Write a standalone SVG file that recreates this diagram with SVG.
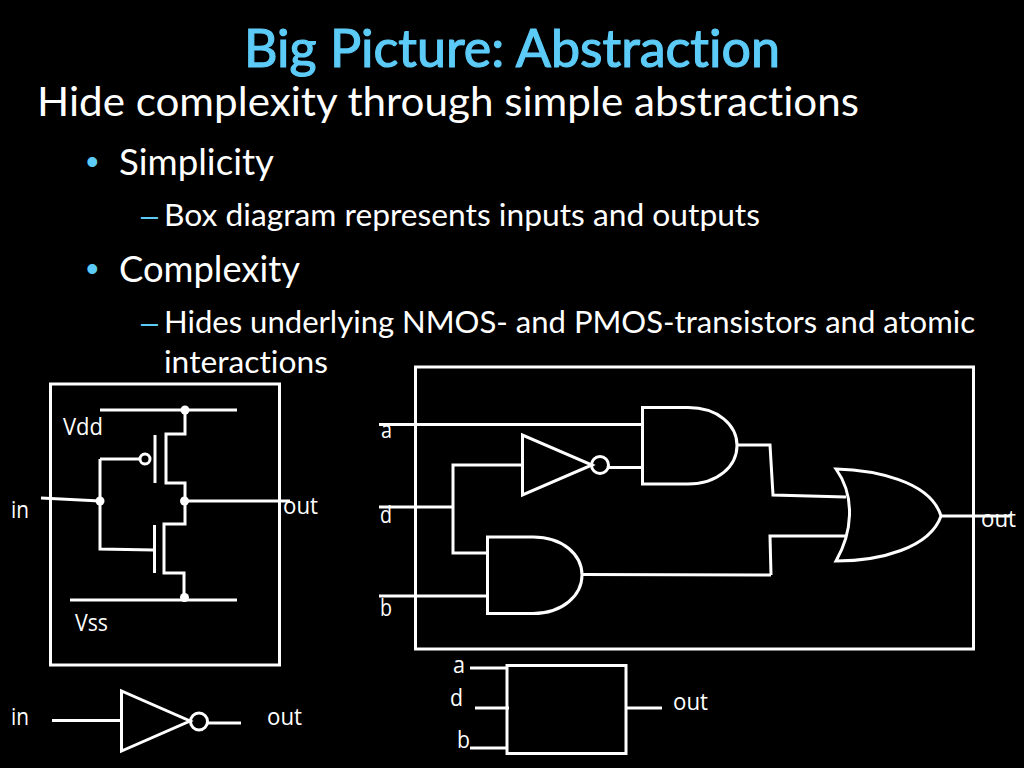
<svg xmlns="http://www.w3.org/2000/svg" width="1024" height="768" viewBox="0 0 1024 768">
<style>
text{font-family:"Lato","Open Sans","Liberation Sans",sans-serif;fill:#fff;font-variant-ligatures:none}
.title{font-size:52px;fill:#5ccbf7;stroke:#5ccbf7;stroke-width:1.2px}
.l1{font-size:40px}.l2{font-size:36px}.l3{font-size:31px}
.bul{fill:#5ccbf7;font-family:"Liberation Sans",sans-serif}
.lb{font-size:23px;font-family:"Open Sans",sans-serif}
.w{fill:none;stroke:#fff;stroke-width:3;stroke-linejoin:miter}
.d{fill:#fff;stroke:none}
</style>
<rect width="1024" height="768" fill="#000"/>
<g id="slide-text">
<text class="title" x="244" y="67" textLength="536" lengthAdjust="spacingAndGlyphs">Big Picture: Abstraction</text>
<text class="l1" x="37" y="116" textLength="822" lengthAdjust="spacingAndGlyphs">Hide complexity through simple abstractions</text>
<text class="l2 bul" x="86" y="174">•</text>
<text class="l2" x="119" y="175" textLength="155" lengthAdjust="spacingAndGlyphs">Simplicity</text>
<text class="l3 bul" x="141" y="226" textLength="17" lengthAdjust="spacingAndGlyphs">–</text>
<text class="l3" x="164" y="226" textLength="596" lengthAdjust="spacingAndGlyphs">Box diagram represents inputs and outputs</text>
<text class="l2 bul" x="86" y="281">•</text>
<text class="l2" x="119" y="282" textLength="181" lengthAdjust="spacingAndGlyphs">Complexity</text>
<text class="l3 bul" x="141" y="333" textLength="17" lengthAdjust="spacingAndGlyphs">–</text>
<text class="l3" x="164" y="333" textLength="811" lengthAdjust="spacingAndGlyphs">Hides underlying NMOS- and PMOS-transistors and atomic</text>
<text class="l3" x="164" y="373" textLength="164" lengthAdjust="spacingAndGlyphs">interactions</text>
</g>
<g id="connectors">
<path class="w" d="M100 410H237M70 600H237M185 410V434H166V483H185V524H164V573H184V598M41 498L100 501M100 459H141M100 459V549L154 550M185 501H290"/>
<path class="w" d="M379 424.500H642M379 507H453M379 596H487M453 507V465H522M453 507V553H487M609 467.500H642M582 574.500L771 575M737 445H770L773 495L846 497M771 575L770 536H845M941 516H1010"/>
<path class="w" d="M52 720.500H121M208 723H241M470 668H507M475 708H509M470 748H507M626 708H662"/>
</g>
<g id="cmos-box"><rect class="w" x="50.500" y="384" width="229" height="281"/></g>
<g id="pmos"><path class="w" d="M155 435V483"/><circle class="w" cx="145" cy="459" r="5"/></g>
<g id="nmos"><path class="w" d="M154.500 525V573"/></g>
<g id="junctions">
<circle class="d" cx="185" cy="410" r="4.500"/><circle class="d" cx="100" cy="501" r="4.500"/><circle class="d" cx="184.500" cy="501" r="4.500"/><circle class="d" cx="184.500" cy="597.500" r="4.500"/>
</g>
<g id="circuit-box"><rect class="w" x="415.500" y="367" width="558" height="282"/></g>
<g id="and-top"><path class="w" d="M642.500 407.500H688C718 407.500 737 425 737 445.500C737 466 718 484 688 484H642.500Z"/></g>
<g id="not-mid"><path class="w" d="M522.500 435V495L592 465Z"/><circle class="w" cx="600" cy="465" r="8.500"/></g>
<g id="and-bottom"><path class="w" d="M487.500 537H533C563 537 582 555 582 575C582 595 563 613.500 533 613.500H487.500Z"/></g>
<g id="or"><path class="w" d="M836 469C872 470 930 480 941 516C930 548 880 561 836 561C852 533 856 497 836 469Z"/></g>
<g id="inverter"><path class="w" d="M121.500 691V751L190 721Z"/><circle class="w" cx="199" cy="721.500" r="8.500"/></g>
<g id="block-box"><rect class="w" x="507" y="665.500" width="119" height="88"/></g>
<g id="labels">
<text class="lb" x="63" y="435" textLength="40" lengthAdjust="spacingAndGlyphs">Vdd</text><text class="lb" x="75" y="631" textLength="33" lengthAdjust="spacingAndGlyphs">Vss</text>
<text class="lb" x="11" y="518" textLength="18" lengthAdjust="spacingAndGlyphs">in</text><text class="lb" x="283" y="514" textLength="35" lengthAdjust="spacingAndGlyphs">out</text>
<text class="lb" x="381" y="438" textLength="11" lengthAdjust="spacingAndGlyphs">a</text><text class="lb" x="380" y="523" textLength="12" lengthAdjust="spacingAndGlyphs">d</text><text class="lb" x="380" y="616" textLength="12" lengthAdjust="spacingAndGlyphs">b</text><text class="lb" x="981" y="527" textLength="35" lengthAdjust="spacingAndGlyphs">out</text>
<text class="lb" x="11" y="725" textLength="18" lengthAdjust="spacingAndGlyphs">in</text><text class="lb" x="267" y="725" textLength="35" lengthAdjust="spacingAndGlyphs">out</text>
<text class="lb" x="453" y="673" textLength="12" lengthAdjust="spacingAndGlyphs">a</text><text class="lb" x="450" y="706" textLength="13" lengthAdjust="spacingAndGlyphs">d</text><text class="lb" x="457" y="748" textLength="13" lengthAdjust="spacingAndGlyphs">b</text><text class="lb" x="673" y="710" textLength="35" lengthAdjust="spacingAndGlyphs">out</text>
</g>
</svg>
